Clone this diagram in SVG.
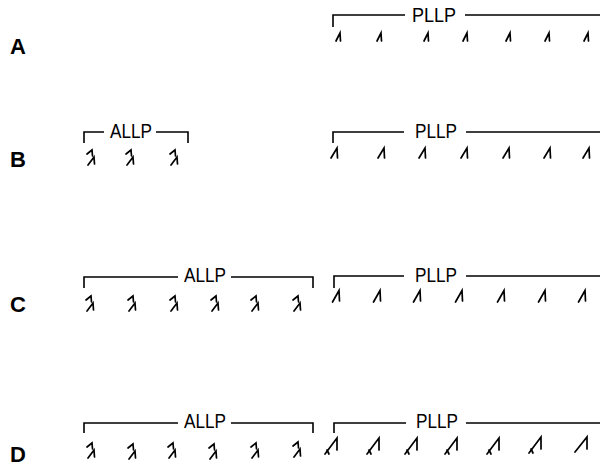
<svg xmlns="http://www.w3.org/2000/svg" xmlns:xlink="http://www.w3.org/1999/xlink" width="600" height="468" viewBox="0 0 600 468">
<style>
.lbl{font-family:"Liberation Sans",Arial,sans-serif;font-weight:bold;font-size:22px;fill:#000}
.t{font-family:"Liberation Sans",Arial,sans-serif;font-size:21px;fill:#000}
.br{fill:none;stroke:#000;stroke-width:1.6}
.m{fill:none;stroke:#000;stroke-width:1.7;stroke-linecap:round;stroke-linejoin:miter}
</style>
<defs>
<g id="hA"><path class="m" d="M-3,4 L1,-4 L1.5,4"/></g>
<g id="hB"><path class="m" d="M-4,5 L2,-5 L2.5,5"/></g>
<g id="hC"><path class="m" d="M-4.5,6 L2,-5.5 L2.5,5"/></g>
<g id="hD"><path class="m" d="M-8,9 L4,-7 L4,5"/><path class="m" d="M-6,5 L-4,9"/></g>
<g id="dbl"><path class="m" d="M-4,-3 L1,-7 L1.5,-1"/><path class="m" d="M-3,8 L3,0 L3.5,7"/></g>
</defs>
<g id="labels">
<text class="lbl" x="10" y="54">A</text>
<text class="lbl" x="10" y="167">B</text>
<text class="lbl" x="10" y="312">C</text>
<text class="lbl" x="10" y="462">D</text>
</g>
<g id="connectors">
<path class="br" d="M333,27 V15 H405 M465,15 H600"/>
<path class="br" d="M84,143 V132 H104 M156,132 H188 V143"/>
<path class="br" d="M333,143 V132 H404 M466,132 H600"/>
<path class="br" d="M84,288 V277 H178 M231,277 H313 V288"/>
<path class="br" d="M334,288 V276 H404 M466,276 H600"/>
<path class="br" d="M84,433 V423 H178 M231,423 H313 V433"/>
<path class="br" d="M334,433 V423 H406 M466,423 H600"/>
</g>
<g id="pllpA">
<text class="t" x="412" y="22" textLength="44" lengthAdjust="spacingAndGlyphs">PLLP</text>
<use xlink:href="#hA" x="339" y="37"/><use xlink:href="#hA" x="380" y="37"/><use xlink:href="#hA" x="427" y="37"/><use xlink:href="#hA" x="466" y="37"/><use xlink:href="#hA" x="509" y="37"/><use xlink:href="#hA" x="548" y="37"/><use xlink:href="#hA" x="587" y="37"/>
</g>
<g id="allpB">
<text class="t" x="110" y="138" textLength="42" lengthAdjust="spacingAndGlyphs">ALLP</text>
<use xlink:href="#dbl" x="91" y="157"/><use xlink:href="#dbl" x="130" y="157"/><use xlink:href="#dbl" x="174" y="157"/>
</g>
<g id="pllpB">
<text class="t" x="415" y="138" textLength="42" lengthAdjust="spacingAndGlyphs">PLLP</text>
<use xlink:href="#hB" x="335" y="153"/><use xlink:href="#hB" x="382" y="153"/><use xlink:href="#hB" x="423" y="153"/><use xlink:href="#hB" x="465" y="153"/><use xlink:href="#hB" x="507" y="153"/><use xlink:href="#hB" x="548" y="153"/><use xlink:href="#hB" x="587" y="153"/>
</g>
<g id="allpC">
<text class="t" x="184" y="282" textLength="42" lengthAdjust="spacingAndGlyphs">ALLP</text>
<use xlink:href="#dbl" x="90" y="303"/><use xlink:href="#dbl" x="132" y="303"/><use xlink:href="#dbl" x="174" y="303"/><use xlink:href="#dbl" x="215" y="303"/><use xlink:href="#dbl" x="255" y="303"/><use xlink:href="#dbl" x="297" y="303"/>
</g>
<g id="pllpC">
<text class="t" x="415" y="282" textLength="42" lengthAdjust="spacingAndGlyphs">PLLP</text>
<use xlink:href="#hC" x="337" y="296"/><use xlink:href="#hC" x="378" y="296"/><use xlink:href="#hC" x="418" y="296"/><use xlink:href="#hC" x="460" y="296"/><use xlink:href="#hC" x="502" y="296"/><use xlink:href="#hC" x="543" y="296"/><use xlink:href="#hC" x="583" y="296"/>
</g>
<g id="allpD">
<text class="t" x="184" y="428" textLength="42" lengthAdjust="spacingAndGlyphs">ALLP</text>
<use xlink:href="#dbl" x="91" y="450"/><use xlink:href="#dbl" x="132" y="451"/><use xlink:href="#dbl" x="172" y="450"/><use xlink:href="#dbl" x="213" y="451"/><use xlink:href="#dbl" x="255" y="450"/><use xlink:href="#dbl" x="297" y="449"/>
</g>
<g id="pllpD">
<text class="t" x="416" y="428" textLength="42" lengthAdjust="spacingAndGlyphs">PLLP</text>
<use xlink:href="#hD" x="333" y="445"/><use xlink:href="#hD" x="375" y="445"/><use xlink:href="#hD" x="413" y="445"/><use xlink:href="#hD" x="453" y="445"/><use xlink:href="#hD" x="495" y="445"/><use xlink:href="#hD" x="537" y="444"/><g transform="translate(583,444)"><path class="m" d="M-8,8 L4,-7 L4,5"/></g>
</g>
</svg>
